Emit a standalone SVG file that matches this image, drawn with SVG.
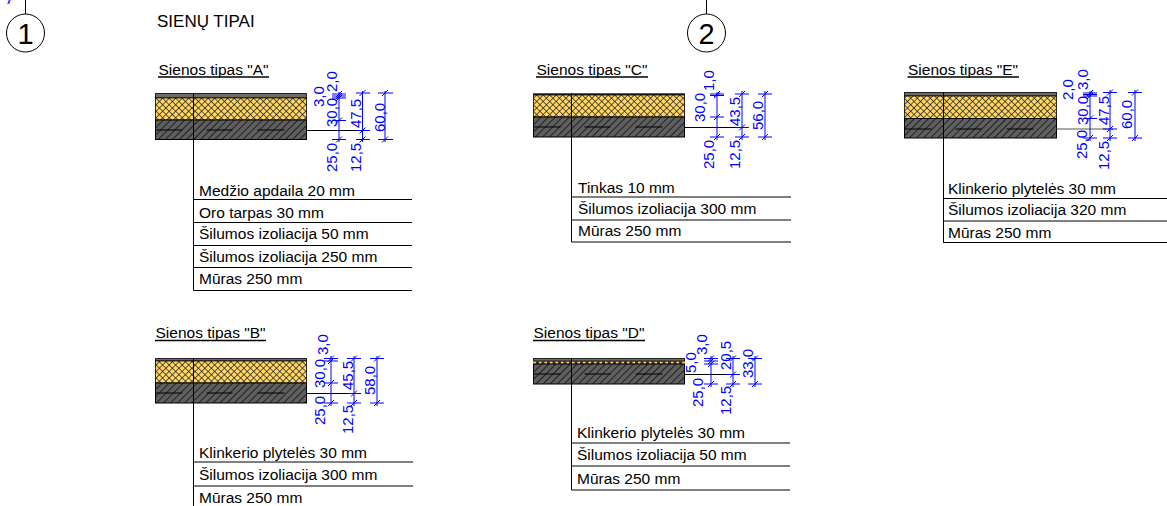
<svg xmlns="http://www.w3.org/2000/svg" width="1167" height="506" viewBox="0 0 1167 506">
<style>
text{font-family:"Liberation Sans",Arial,sans-serif;fill:#000}
.t{font-size:15.5px}
.h{font-size:15.500px}
.d{font-size:15px;fill:#0000ff}
.l{stroke:#000;stroke-width:1;fill:none}
.u{stroke:#000;stroke-width:1.6;fill:none}
.b{stroke:#0000ff;stroke-width:1;fill:none}
.ms{fill:url(#hatch);stroke:#000;stroke-width:1}
.ins{fill:url(#cross);stroke:#000;stroke-width:.8}
.top{fill:#6e6a64;stroke:#222;stroke-width:1}
.j{stroke:#000;stroke-width:1;fill:none}
</style>
<defs>
<pattern id="hatch" width="5" height="5" patternUnits="userSpaceOnUse" patternTransform="rotate(45)">
<rect width="5" height="5" fill="#5f5f5f"/><line x1="0" y1="0" x2="0" y2="5" stroke="#111" stroke-width="1.6"/>
</pattern>
<pattern id="cross" width="4.6" height="4.6" patternUnits="userSpaceOnUse" patternTransform="rotate(45)">
<rect width="4.6" height="4.6" fill="#ffd766"/><path d="M0 0H4.600M0 0V4.600" stroke="#1c1a14" stroke-width="1.400"/>
</pattern>
<g id="dash"><path class="j" d="M0 0H27M51 0H77M102 0H129"/></g>
<path id="x" d="M-3 3L3 -3" stroke="#0000ff" fill="none"/>
</defs>

<g id="axis-1">
<line class="l" x1="25.5" y1="0" x2="25.5" y2="14"/>
<path class="b" d="M9 0V4M7.500 3.500L10.500 0.500"/>
<circle cx="25.5" cy="33" r="19" fill="#fff" stroke="#000"/>
<text x="25.500" y="43.500" text-anchor="middle" font-size="29">1</text>
</g>
<g id="axis-2">
<line class="l" x1="706.5" y1="0" x2="706.5" y2="14"/>
<circle cx="706.5" cy="33" r="19" fill="#fff" stroke="#000"/>
<text x="706.5" y="43.500" text-anchor="middle" font-size="29">2</text>
</g>
<text id="title" x="157" y="27" font-size="17">SIENŲ TIPAI</text>

<g id="type-a">
<text class="h" x="158.500" y="74.500">Sienos tipas "A"</text><line class="u" x1="158" y1="77" x2="269" y2="77"/>
<rect class="top" x="155.500" y="93.500" width="151" height="4.500" fill-opacity="1"/>
<rect class="ins" x="155.500" y="98" width="151" height="22"/>
<rect class="ms" x="155.500" y="120" width="151" height="19.500"/>
<use href="#dash" x="155.500" y="130"/>
<path class="l" d="M193.500 93V290.500M193.500 199.500H412M193.500 222.500H412M193.500 245.500H412M193.500 267.500H412M193.500 290.500H412M306.500 130.500H364"/>
<text class="t" x="199" y="196">Medžio apdaila 20 mm</text>
<text class="t" x="199" y="218">Oro tarpas 30 mm</text>
<text class="t" x="199" y="239">Šilumos izoliacija 50 mm</text>
<text class="t" x="199" y="262">Šilumos izoliacija 250 mm</text>
<text class="t" x="199" y="284">Mūras 250 mm</text>
</g>
<g id="dims-a">
<path class="b" d="M339 92V142M332 94H346M332 96H346M332 98H346M332 120.500H346M332 139.500H346M362.500 91V142M356 93H370M356 130.500H370M356 139.500H370M385 91V142M378 93H393M378 139.500H393"/>
<use href="#x" x="339" y="94"/><use href="#x" x="339" y="96"/><use href="#x" x="339" y="98"/><use href="#x" x="339" y="120.500"/><use href="#x" x="339" y="139.500"/><use href="#x" x="362.500" y="93"/><use href="#x" x="362.500" y="130.500"/><use href="#x" x="362.500" y="139.500"/><use href="#x" x="385" y="93"/><use href="#x" x="385" y="139.500"/>
<text class="d" transform="translate(324 107) rotate(-90)">3,0</text>
<text class="d" transform="translate(337 92) rotate(-90)">2,0</text>
<text class="d" transform="translate(337 127) rotate(-90)">30,0</text>
<text class="d" transform="translate(337 172) rotate(-90)">25,0</text>
<text class="d" transform="translate(361 128) rotate(-90)">47,5</text>
<text class="d" transform="translate(361 172) rotate(-90)">12,5</text>
<text class="d" transform="translate(385 132) rotate(-90)">60,0</text>
</g>

<g id="type-b">
<text class="h" x="155.500" y="338">Sienos tipas "B"</text><line class="u" x1="155" y1="340.500" x2="266" y2="340.500"/>
<rect class="top" x="155.500" y="358.500" width="151" height="2.500"/>
<rect class="ins" x="155.500" y="361" width="151" height="22"/>
<rect class="ms" x="155.500" y="383" width="151" height="20"/>
<use href="#dash" x="155.500" y="393"/>
<path class="l" d="M193.500 358V506M193.500 462H413M193.500 486H413M306.500 393.500H356"/>
<text class="t" x="199" y="458">Klinkerio plytelės 30 mm</text>
<text class="t" x="199" y="480">Šilumos izoliacija 300 mm</text>
<text class="t" x="199" y="503">Mūras 250 mm</text>
</g>
<g id="dims-b">
<path class="b" d="M331 356V406M324 358.500H338M324 361H338M324 383H338M324 403H338M354 356V406M347 358.500H361M347 393.500H361M347 403H361M377 356V406M370 358.500H384M370 403H384"/>
<use href="#x" x="331" y="358.500"/><use href="#x" x="331" y="361"/><use href="#x" x="331" y="383"/><use href="#x" x="331" y="403"/><use href="#x" x="354" y="358.500"/><use href="#x" x="354" y="393.500"/><use href="#x" x="354" y="403"/><use href="#x" x="377" y="358.500"/><use href="#x" x="377" y="403"/>
<text class="d" transform="translate(328 355) rotate(-90)">3,0</text>
<text class="d" transform="translate(325 388) rotate(-90)">30,0</text>
<text class="d" transform="translate(325 425) rotate(-90)">25,0</text>
<text class="d" transform="translate(353 390) rotate(-90)">45,5</text>
<text class="d" transform="translate(353 434) rotate(-90)">12,5</text>
<text class="d" transform="translate(375 395) rotate(-90)">58,0</text>
</g>

<g id="type-c">
<text class="h" x="536.500" y="74.500">Sienos tipas "C"</text><line class="u" x1="536" y1="77" x2="648" y2="77"/>
<rect class="top" x="533.500" y="93.800" width="151" height="1"/>
<rect class="ins" x="533.500" y="95" width="151" height="22"/>
<rect class="ms" x="533.500" y="117" width="151" height="20"/>
<use href="#dash" x="533.500" y="127"/>
<path class="l" d="M571.500 93V242M571.500 197H791M571.500 220H791M571.500 242H791M684.500 127.500H744"/>
<text class="t" x="578" y="193">Tinkas 10 mm</text>
<text class="t" x="578" y="214">Šilumos izoliacija 300 mm</text>
<text class="t" x="578" y="236">Mūras 250 mm</text>
</g>
<g id="dims-c">
<path class="b" d="M717 92V140M710 94H724M710 95.500H724M710 117H724M710 137H724M742 91V140M735 94H749M735 127.500H749M735 137H749M765 91V140M758 94H772M758 137H772"/>
<use href="#x" x="717" y="94"/><use href="#x" x="717" y="95.500"/><use href="#x" x="717" y="117"/><use href="#x" x="717" y="137"/><use href="#x" x="742" y="94"/><use href="#x" x="742" y="127.500"/><use href="#x" x="742" y="137"/><use href="#x" x="765" y="94"/><use href="#x" x="765" y="137"/>
<text class="d" transform="translate(714 91) rotate(-90)">1,0</text>
<text class="d" transform="translate(705 122) rotate(-90)">30,0</text>
<text class="d" transform="translate(714 169) rotate(-90)">25,0</text>
<text class="d" transform="translate(740 126) rotate(-90)">43,5</text>
<text class="d" transform="translate(740 169) rotate(-90)">12,5</text>
<text class="d" transform="translate(763 130) rotate(-90)">56,0</text>
</g>

<g id="type-d">
<text class="h" x="533.500" y="337.500">Sienos tipas "D"</text><line class="u" x1="533" y1="340.500" x2="645" y2="340.500"/>
<rect class="top" x="533.500" y="358.500" width="151" height="2.500"/>
<rect x="533.500" y="361" width="151" height="3" fill="#3a3524"/>
<line x1="533.500" y1="362.700" x2="684.500" y2="362.700" stroke="#ffd766" stroke-width="2" stroke-dasharray="2.500 3"/>
<rect class="ms" x="533.500" y="364" width="151" height="20"/>
<use href="#dash" x="533.500" y="374"/>
<path class="l" d="M571.500 358V490M571.500 443H790M571.500 466H790M571.500 490H790M684.500 374.500H735"/>
<text class="t" x="577" y="438">Klinkerio plytelės 30 mm</text>
<text class="t" x="577" y="460">Šilumos izoliacija 50 mm</text>
<text class="t" x="577" y="484">Mūras 250 mm</text>
</g>
<g id="dims-d">
<path class="b" d="M711 356V387M704 358.500H718M704 361H718M704 364H718M704 384H718M733 356V387M726 358.500H740M726 374.500H740M726 384H740M755 356V387M748 358.500H762M748 384H762"/>
<use href="#x" x="711" y="358.500"/><use href="#x" x="711" y="361"/><use href="#x" x="711" y="364"/><use href="#x" x="711" y="384"/><use href="#x" x="733" y="358.500"/><use href="#x" x="733" y="374.500"/><use href="#x" x="733" y="384"/><use href="#x" x="755" y="358.500"/><use href="#x" x="755" y="384"/>
<text class="d" transform="translate(707 355) rotate(-90)">3,0</text>
<text class="d" transform="translate(696 373) rotate(-90)">5,0</text>
<text class="d" transform="translate(703 407) rotate(-90)">25,0</text>
<text class="d" transform="translate(731 370) rotate(-90)">20,5</text>
<text class="d" transform="translate(731 415) rotate(-90)">12,5</text>
<text class="d" transform="translate(753 378) rotate(-90)">33,0</text>
</g>

<g id="type-e">
<text class="h" x="908" y="74.500">Sienos tipas "E"</text><line class="u" x1="907.500" y1="77" x2="1019" y2="77"/>
<rect class="top" x="904.500" y="92.500" width="152" height="3.500"/>
<rect class="ins" x="904.500" y="96" width="152" height="22.500"/>
<rect class="ms" x="904.500" y="118.500" width="152" height="19.500"/>
<use href="#dash" x="904.500" y="129"/>
<path class="l" d="M943.500 92V243M943.500 198.500H1167M943.500 221H1167M943.500 242.500H1167"/>
<line x1="1056.500" y1="129" x2="1113" y2="129" stroke="#555" stroke-width="1.200"/>
<text class="t" x="948" y="193.500">Klinkerio plytelės 30 mm</text>
<text class="t" x="948" y="215">Šilumos izoliacija 320 mm</text>
<text class="t" x="948" y="238">Mūras 250 mm</text>
</g>
<g id="dims-e">
<path class="b" d="M1090 91V141M1083 93H1097M1083 94.500H1097M1083 96H1097M1083 118.500H1097M1083 138H1097M1110 90V141M1103 92.500H1117M1103 129H1117M1103 138H1117M1135 90V141M1128 92.500H1142M1128 138H1142"/>
<use href="#x" x="1090" y="93"/><use href="#x" x="1090" y="94.500"/><use href="#x" x="1090" y="96"/><use href="#x" x="1090" y="118.500"/><use href="#x" x="1090" y="138"/><use href="#x" x="1110" y="92.500"/><use href="#x" x="1110" y="129"/><use href="#x" x="1110" y="138"/><use href="#x" x="1135" y="92.500"/><use href="#x" x="1135" y="138"/>
<text class="d" transform="translate(1088 90) rotate(-90)">3,0</text>
<text class="d" transform="translate(1073 100) rotate(-90)">2,0</text>
<text class="d" transform="translate(1088 125) rotate(-90)">30,0</text>
<text class="d" transform="translate(1087 159) rotate(-90)">25,0</text>
<text class="d" transform="translate(1109 125) rotate(-90)">47,5</text>
<text class="d" transform="translate(1109 170) rotate(-90)">12,5</text>
<text class="d" transform="translate(1132 129) rotate(-90)">60,0</text>
</g>
</svg>
